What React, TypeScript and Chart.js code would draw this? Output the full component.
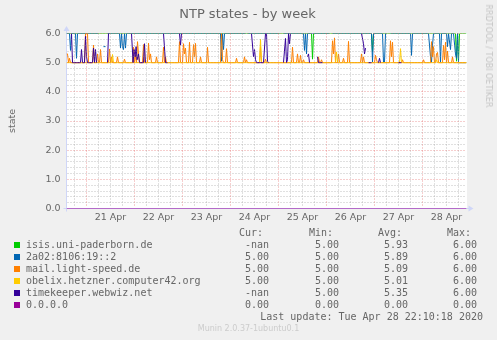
import React, { useEffect, useRef } from "react";
import { Chart, registerables } from "chart.js";

Chart.register(...registerables);

// ---------- text ----------
const chartTitle = "NTP states - by week";
const yAxisTitle = "state";
const watermark = "RRDTOOL / TOBI OETIKER";
const lastUpdate = "Last update: Tue Apr 28 22:10:18 2020";
const footer = "Munin 2.0.37-1ubuntu0.1";

// ---------- axes (x in hours since 21 Apr 00:00) ----------
const xMinHour = -10;
const xMaxHour = 190;
const dayLabels = ["21 Apr", "22 Apr", "23 Apr", "24 Apr", "25 Apr", "26 Apr", "27 Apr", "28 Apr"];
const dayLabelHours = [12, 36, 60, 84, 108, 132, 156, 180];
const yMin = 0;
const yMax = 6;
const yMajorStep = 1;
const yMinorStep = 0.2;
const xMajorStepHours = 24;
const xMinorStepHours = 6;

// ---------- legend ----------
const seriesNames = [
  "isis.uni-paderborn.de",
  "2a02:8106:19::2",
  "mail.light-speed.de",
  "obelix.hetzner.computer42.org",
  "timekeeper.webwiz.net",
  "0.0.0.0",
];
const seriesColors = ["#00cc00", "#0066b3", "#ff8000", "#ffcc00", "#330099", "#990099"];
const curValues = ["-nan", "5.00", "5.00", "5.00", "-nan", "0.00"];
const minValues = ["5.00", "5.00", "5.00", "5.00", "5.00", "0.00"];
const avgValues = ["5.93", "5.89", "5.09", "5.01", "5.35", "0.00"];
const maxValues = ["6.00", "6.00", "6.00", "6.00", "6.00", "0.00"];

// ---------- series: [hour, value] ----------
type P = [number, number | null];

const isisData: P[] = [
  [-10, 6], [112.5, 6], [113, 5.12], [113.5, 6], [142.5, 6], [143, 5.38], [143.5, 6],
  [184.5, 6], [185, 5.05], [185.5, 6], [186, 5.05], [186.5, 6], [190, 6],
];

const blueData: P[] = [
  [-10, 6], [-8.5, 6], [-8, 5.42], [-7.5, 6], [-5.5, 6], [-5, 5.15], [-4.5, 6],
  [6, 6], [6.5, null], [8.5, 5.55], [9.5, 5.55], [10, null], [10.5, 6],
  [16.5, 6], [17, 5.5], [17.5, 6], [18, 5.55], [18.5, 5.45], [19, 6], [19.5, 5.5], [20, 6],
  [67, 6], [67.5, 5.05], [68, 6], [68.5, 5.45], [69, 6],
  [79.5, 6], [80, null], [80.5, 6],
  [96.5, 6], [97, null], [98.5, 6],
  [108.5, 6], [109, 5.42], [109.5, 6], [110, 5.3], [110.5, 6],
  [121.5, 6], [122, null], [123, 6],
  [142.5, 6], [143, 5.02], [143.5, 6],
  [148, 6], [148.5, 5.02], [149, 5.02], [149.5, 6],
  [150, 6], [150.5, null], [152, 6],
  [162, 6], [162.5, 5.25], [163, 6],
  [171, 6], [171.5, 5.6], [172, 5.2], [172.5, 5.02], [173, 5.6], [173.5, 6],
  [176.5, 6], [177, 5.02], [177.5, 6],
  [180, 6], [180.5, 5.55], [181, 6], [182, 5.45], [182.5, 6],
  [183.5, 6], [184.5, 5.3], [185, 5.15], [185.5, 6], [186, 5.0], [190, 5.0],
];

const mailData: P[] = [
  [-10, 5.3], [-9.5, 5.3], [-9, 5.0], [-8.5, 5.15], [-8, 5.0],
  [-1, 5.0], [-0.5, 6.0], [0.5, 6.0], [1, 5.0],
  [3, 5.0], [3.5, 5.6], [4, 5.0], [5, 5.0], [5.5, 5.3], [6, 5.0],
  [6.5, 5.0], [7, 5.45], [7.5, 5.0],
  [11, 5.0], [11.5, 5.47], [12, 5.0], [12.5, 5.2], [13, 5.0],
  [15, 5.0], [15.5, 5.2], [16, 5.0],
  [18.5, 5.0], [19, 5.12], [19.5, 5.0],
  [23, 5.0], [23.5, 5.53], [24, 5.0], [24.5, 5.25], [25, 5.0], [25.5, 5.72], [26, 5.3], [26.5, 5.0],
  [28, 5.0], [28.5, 5.62], [29, 5.0], [30.5, 5.0], [31, 5.67], [31.5, 5.1], [32, 5.3], [32.5, 5.0],
  [34.5, 5.0], [35, 5.2], [35.5, 5.0],
  [38, 5.0], [38.5, 5.53], [39, 5.0], [39.5, 5.2], [40, 5.0],
  [46, 5.0], [46.5, 5.72], [47, 5.0], [48, 5.0], [48.5, 5.65], [49, 5.3], [49.5, 5.5], [50, 5.0],
  [51, 5.0], [51.5, 5.7], [52, 5.0], [53, 5.0], [53.5, 5.62], [54, 5.2], [54.5, 5.66], [55, 5.0],
  [56.5, 5.0], [57, 5.2], [57.5, 5.0],
  [60, 5.0], [60.5, 5.53], [61, 5.0],
  [67, 5.0], [67.5, 6.0], [68, 5.1], [68.5, 5.0],
  [69.5, 5.0], [70, 5.48], [70.5, 5.0],
  [74.5, 5.0], [75, 5.15], [75.5, 5.0],
  [78.5, 5.0], [79, 5.2], [79.5, 5.0], [80, 5.1], [80.5, 5.0],
  [86.5, 5.0], [87, 5.55], [87.5, 5.0],
  [89, 5.0], [89.5, 5.12], [90, 5.0],
  [102.5, 5.0], [103, 5.53], [103.5, 5.0],
  [105, 5.0], [105.5, 5.3], [106, 5.0], [106.5, 5.0], [107, 5.25], [107.5, 5.0], [108, 5.0], [108.5, 5.1], [109, 5.0],
  [115.5, 5.0], [116, 5.2], [116.5, 5.0], [117, 5.0], [117.5, 5.1], [118, 5.0],
  [122.5, 5.0], [123, 5.75], [123.5, 5.3], [124, 5.85], [124.5, 5.0],
  [125.5, 5.0], [126, 5.3], [126.5, 5.0],
  [128, 5.0], [128.5, 5.15], [129, 5.0],
  [130.5, 5.0], [131, 5.73], [131.5, 5.0],
  [137, 5.0], [137.5, 5.3], [138, 5.0], [138.5, 5.2], [139, 5.0],
  [144, 5.0], [144.5, 5.25], [145, 5.1], [145.5, 5.0],
  [151.5, 5.0], [152, 5.75], [152.5, 5.2], [153, 5.7], [153.5, 5.0],
  [157.5, 5.0], [158, 5.1], [158.5, 5.0],
  [168, 5.0], [168.5, 5.1], [169, 5.0],
  [172, 5.0], [172.5, 5.72], [173, 5.2], [173.5, 5.55], [174, 5.0],
  [174.5, 5.0], [175, 5.3], [175.5, 5.35], [176, 5.0],
  [178, 5.0], [178.5, 5.6], [179, 5.1], [179.5, 5.7], [180, 5.0], [180.5, 5.4], [181, 5.0],
  [182.5, 5.0], [183, 5.2], [183.5, 5.0],
  [190, 5.0],
];

const obelixData: P[] = [
  [-10, 5.0], [12.5, 5.0], [13, 5.28], [13.5, 5.0], [86.5, 5.0], [87, 5.8], [87.5, 5.0],
  [124.5, 5.0], [125, 5.37], [125.5, 5.0], [156.5, 5.0], [157, 5.48], [157.5, 5.0],
  [174.5, 5.0], [175, 5.1], [175.5, 5.0], [190, 5.0],
];

const timekeeperData: P[] = [
  [-7.5, 6], [-7, 5.0], [-3, 5.0], [-2.5, 5.45], [-2, 5.0], [-1, 5.0], [-0.5, 5.9], [0, 5.2], [0.5, 5.0],
  [3, 5.0], [3.5, 5.5], [4, 5.0], [4.5, 5.45], [5, 5.0], [5.5, null],
  [10.5, 5.0], [11, 6], [11.5, 6], [12, null],
  [22.5, 6], [23.3, 5.0], [23.8, 5.45], [24.3, 5.2], [24.8, 5.55], [25.3, 5.1], [26, 5.3], [26.5, 5.0],
  [28.5, 5.0], [29, 5.65], [29.5, 5.0], [30, null],
  [38.5, 6], [39.5, 5.0], [40.5, 5.0], [41, null],
  [46.5, 6], [47, 5.6], [47.5, 6], [48, null],
  [82.5, 6], [83.5, 5.2], [84, 5.45], [84.5, 5.1], [85, 5.0], [88.5, 5.0], [89.5, 6], [90, 6],
  [90.5, 5.05], [91, 5.0], [92, null],
  [98.5, 5.0], [99.5, 5.83], [100, 5.0], [100.5, 5.1], [101, 6], [101.5, 5.65], [102, 6], [102.5, null],
  [110.5, 5.2], [111, 5.3], [111.5, 5.0], [112, null],
  [115.5, 5.2], [116, 5.0], [118, 5.0], [118.5, null],
  [137.5, 6], [138.5, 5.65], [139, 5.3], [139.5, 5.5], [140, null],
  [141, 5.0], [142.5, 5.0], [143, null],
  [146, 5.0], [146.5, 5.15], [147, 5.0], [147.5, null],
  [156, 5.0], [157.5, 5.0], [158, null],
];

const zeroData: P[] = [[-10, 0], [190, 0]];

const seriesData: P[][] = [isisData, blueData, mailData, obelixData, timekeeperData, zeroData];

// ---------- styling ----------
const FONT_SANS = "'DejaVu Sans', 'Liberation Sans', sans-serif";
const FONT_MONO = "'DejaVu Sans Mono', 'Liberation Mono', monospace";
const TEXT = "#666666";
const AXIS = "#cfd6f8";
const GRID = "rgba(150,150,150,0.6)";
const MGRID = "rgba(225,90,90,0.6)";

const snap = (p: number) => Math.floor(p) + 0.5;

const canvasAndAxes = {
  id: "canvasAndAxes",
  beforeDatasetsDraw(chart: any) {
    const { ctx, chartArea: a } = chart;
    ctx.save();
    ctx.fillStyle = "#ffffff";
    ctx.fillRect(a.left - 0.5, a.top - 0.5, a.right - a.left + 1, a.bottom - a.top + 1);
    // axes + arrows (under the data, as in rrdtool)
    ctx.lineWidth = 1;
    ctx.strokeStyle = AXIS;
    ctx.fillStyle = AXIS;
    const ax = snap(a.left);
    const ay = snap(a.bottom);
    ctx.beginPath();
    ctx.moveTo(ax, ay + 3);
    ctx.lineTo(ax, a.top - 3);
    ctx.moveTo(ax - 3, ay);
    ctx.lineTo(a.right + 3, ay);
    ctx.stroke();
    ctx.beginPath();
    ctx.moveTo(ax - 3, a.top - 2.5);
    ctx.lineTo(ax + 3, a.top - 2.5);
    ctx.lineTo(ax, a.top - 7.5);
    ctx.closePath();
    ctx.fill();
    ctx.beginPath();
    ctx.moveTo(a.right + 2, ay - 3);
    ctx.lineTo(a.right + 2, ay + 3);
    ctx.lineTo(a.right + 7, ay);
    ctx.closePath();
    ctx.fill();
    ctx.restore();
  },
};

const muninGrid = {
  id: "muninGrid",
  afterDatasetsDraw(chart: any) {
    const { ctx, chartArea: a, scales } = chart;
    const xs = scales.x;
    const ys = scales.y;
    ctx.save();
    ctx.lineWidth = 1;
    ctx.setLineDash([1, 2]);
    // minor
    ctx.strokeStyle = GRID;
    ctx.beginPath();
    for (let h = Math.ceil(xMinHour / xMinorStepHours) * xMinorStepHours; h <= xMaxHour; h += xMinorStepHours) {
      if (h % xMajorStepHours === 0) continue;
      const px = snap(xs.getPixelForValue(h));
      ctx.moveTo(px, a.top);
      ctx.lineTo(px, a.bottom - 1);
    }
    const nMinor = Math.round((yMax - yMin) / yMinorStep);
    for (let i = 1; i < nMinor; i++) {
      const v = yMin + i * yMinorStep;
      if (Math.abs(v - Math.round(v / yMajorStep) * yMajorStep) < 1e-6) continue;
      const py = snap(ys.getPixelForValue(v));
      ctx.moveTo(a.left + 1, py);
      ctx.lineTo(a.right, py);
    }
    ctx.stroke();
    // major
    ctx.strokeStyle = MGRID;
    ctx.beginPath();
    for (let h = Math.ceil(xMinHour / xMajorStepHours) * xMajorStepHours; h <= xMaxHour; h += xMajorStepHours) {
      const px = snap(xs.getPixelForValue(h));
      ctx.moveTo(px, a.top);
      ctx.lineTo(px, a.bottom - 1);
    }
    for (let v = yMin + yMajorStep; v <= yMax + 1e-6; v += yMajorStep) {
      const py = snap(ys.getPixelForValue(v));
      ctx.moveTo(a.left + 1, py);
      ctx.lineTo(a.right, py);
    }
    ctx.stroke();
    ctx.restore();
  },
};

export default function App() {
  const ref = useRef<HTMLCanvasElement | null>(null);

  useEffect(() => {
    if (!ref.current) return;
    const datasets = seriesData.map((d, i) => ({
      label: seriesNames[i],
      data: d.map(([x, y]) => ({ x, y })),
      borderColor: seriesColors[i],
      backgroundColor: seriesColors[i],
      borderWidth: 1,
      pointRadius: 0,
      tension: 0,
      spanGaps: false,
      fill: false,
      order: seriesData.length - i,
    }));
    const chart = new Chart(ref.current, {
      type: "line",
      data: { datasets },
      plugins: [canvasAndAxes, muninGrid],
      options: {
        animation: false,
        responsive: false,
        events: [],
        layout: { padding: { left: 0.5, right: 30.5, top: 33.5, bottom: 111.5 } },
        plugins: { legend: { display: false }, title: { display: false }, tooltip: { enabled: false } },
        scales: {
          x: {
            type: "linear",
            min: xMinHour,
            max: xMaxHour,
            grid: { display: false, drawTicks: false },
            border: { display: false },
            afterBuildTicks: (s: any) => {
              s.ticks = dayLabelHours.map((v) => ({ value: v }));
            },
            afterFit: (s: any) => {
              s.height = 20;
            },
            ticks: {
              autoSkip: false,
              maxRotation: 0,
              minRotation: 0,
              padding: 3,
              color: TEXT,
              font: { family: FONT_SANS, size: 9.5 },
              callback: (_v: any, i: number) => dayLabels[i],
            },
          },
          y: {
            type: "linear",
            min: yMin,
            max: yMax,
            grid: { display: false, drawTicks: false },
            border: { display: false },
            afterFit: (s: any) => {
              s.width = 66;
            },
            ticks: {
              stepSize: yMajorStep,
              padding: 6,
              color: TEXT,
              font: { family: FONT_SANS, size: 9.5 },
              callback: (v: any) => Number(v).toFixed(1),
            },
          },
        },
      },
    } as any);
    return () => chart.destroy();
  }, []);

  const abs = (extra: React.CSSProperties): React.CSSProperties => ({
    position: "absolute",
    whiteSpace: "pre",
    ...extra,
  });
  const mono: React.CSSProperties = { fontFamily: FONT_MONO, fontSize: 10, lineHeight: "12px", color: TEXT };
  const colRights = [228, 158, 89, 20];
  const headers = ["Cur: ", "Min: ", "Avg: ", "Max: "];
  const cols = [curValues, minValues, avgValues, maxValues];

  return (
    <div
      style={{
        position: "fixed",
        left: 0,
        top: 0,
        width: 497,
        height: 340,
        background: "#f0f0f0",
        overflow: "hidden",
      }}
    >
      <canvas ref={ref} width={497} height={340} style={{ position: "absolute", left: 0, top: 0 }} />
      <div
        style={abs({
          left: -1,
          top: 5.5,
          width: 497,
          textAlign: "center",
          fontFamily: FONT_SANS,
          fontSize: 13,
          lineHeight: "16px",
          color: TEXT,
        })}
      >
        {chartTitle}
      </div>
      <div
        style={abs({
          left: 12,
          top: 121,
          transform: "translate(-50%, -50%) rotate(-90deg)",
          fontFamily: FONT_SANS,
          fontSize: 9.5,
          lineHeight: "12px",
          color: TEXT,
        })}
      >
        {yAxisTitle}
      </div>
      <div
        style={abs({
          left: 488,
          top: 56,
          transform: "translate(-50%, -50%) rotate(90deg)",
          fontFamily: FONT_SANS,
          fontSize: 8,
          lineHeight: "10px",
          color: "#c4c4c4",
        })}
      >
        {watermark}
      </div>
      {headers.map((h, j) => (
        <div key={"h" + j} style={abs({ ...mono, right: colRights[j], top: 227 })}>
          {h}
        </div>
      ))}
      {seriesNames.map((name, i) => (
        <React.Fragment key={name}>
          <div
            style={abs({ left: 14, top: 242 + i * 12, width: 6, height: 6, background: seriesColors[i] })}
          />
          <div style={abs({ ...mono, left: 26, top: 238.5 + i * 12 })}>{name}</div>
          {cols.map((c, j) => (
            <div key={j} style={abs({ ...mono, right: colRights[j], top: 238.5 + i * 12 })}>
              {c[i]}
            </div>
          ))}
        </React.Fragment>
      ))}
      <div style={abs({ ...mono, right: 14, top: 310.5 })}>{lastUpdate}</div>
      <div
        style={abs({
          left: 0,
          width: 497,
          top: 323.5,
          textAlign: "center",
          fontFamily: FONT_SANS,
          fontSize: 8,
          lineHeight: "10px",
          color: "#cccccc",
        })}
      >
        {footer}
      </div>
    </div>
  );
}
